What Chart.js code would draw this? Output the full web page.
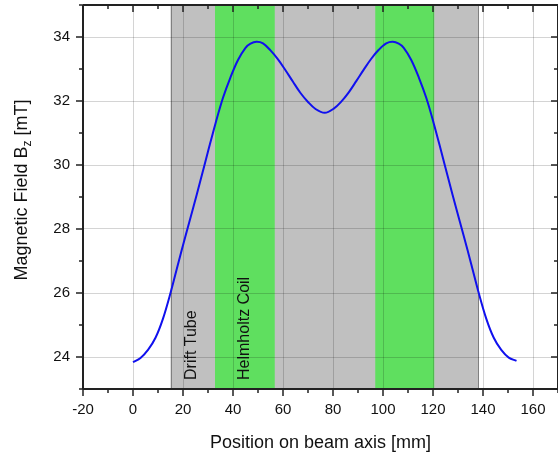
<!DOCTYPE html>
<html>
<head>
<meta charset="utf-8">
<script src="https://cdn.jsdelivr.net/npm/chart.js@4"></script>
<style>
  html, body { margin: 0; padding: 0; background: #fff; }
  #wrap { width: 558px; height: 458px; position: relative; overflow: hidden; }
</style>
</head>
<body>
<div id="wrap"><canvas id="fieldChart"></canvas></div>
<script>
// position along beam axis [mm] and field B_z [mT]
const posMm = [0, 3, 6, 9, 12, 15, 18, 21, 24, 27, 30, 33, 36, 39, 42, 45, 47, 49.4, 52, 55, 58, 61, 64, 67, 70, 73, 76.7,
  80.3, 83.3, 86.3, 89.3, 92.3, 95.3, 98.3, 101.3, 103.9, 106.3, 108.3, 111.3, 114.3, 117.3, 120.3, 123.3, 126.3,
  129.3, 132.3, 135.3, 138.3, 141.3, 144.3, 147.3, 150.3, 153.4];
const fieldMt = [23.84, 23.97, 24.22, 24.6, 25.2, 26.0, 26.9, 27.78, 28.64, 29.52, 30.42, 31.3, 32.1, 32.74, 33.28, 33.66, 33.79, 33.85, 33.8, 33.58, 33.3, 32.96, 32.6, 32.25, 31.97, 31.75, 31.63,
  31.76, 31.98, 32.27, 32.62, 32.98, 33.32, 33.6, 33.8, 33.85, 33.79, 33.66, 33.28, 32.74, 32.1, 31.3, 30.42, 29.52,
  28.64, 27.78, 26.9, 26.0, 25.2, 24.6, 24.22, 23.98, 23.88];

// shaded regions [start, end] in mm
const driftTube = [15, 138.2];
const coils = [[32.8, 56.7], [96.9, 120.5]];

const xTicks = [-20, 0, 20, 40, 60, 80, 100, 120, 140, 160];
const yTicks = [24, 26, 28, 30, 32, 34];

const FONT = "'Liberation Sans', Arial, sans-serif";

const bandsPlugin = {
  id: 'bands',
  beforeDraw(chart) {
    const { ctx, chartArea: a, scales: { x } } = chart;
    ctx.save();
    ctx.beginPath();
    ctx.rect(a.left, a.top, a.right - a.left, a.bottom - a.top);
    ctx.clip();
    const d0 = x.getPixelForValue(driftTube[0]);
    const d1 = x.getPixelForValue(driftTube[1]);
    ctx.fillStyle = '#c0c0c0';
    ctx.fillRect(d0, a.top, d1 - d0, a.bottom - a.top);
    ctx.strokeStyle = '#808080';
    ctx.lineWidth = 1;
    ctx.beginPath();
    ctx.moveTo(Math.round(d0) + 0.5, a.top); ctx.lineTo(Math.round(d0) + 0.5, a.bottom);
    ctx.moveTo(Math.round(d1) - 0.5, a.top); ctx.lineTo(Math.round(d1) - 0.5, a.bottom);
    ctx.stroke();
    ctx.fillStyle = '#5fdf5f';
    coils.forEach(([s, e]) => {
      const p0 = x.getPixelForValue(s), p1 = x.getPixelForValue(e);
      ctx.fillRect(p0, a.top, p1 - p0, a.bottom - a.top);
    });
    ctx.restore();
  },
};

const frameLabelsPlugin = {
  id: 'frameLabels',
  beforeDatasetsDraw(chart) {
    // text labels inside the bands
    const { ctx, chartArea: a, scales: { x } } = chart;
    ctx.save();
    ctx.fillStyle = '#111';
    ctx.font = '16px ' + FONT;
    ctx.textBaseline = 'middle';
    ctx.textAlign = 'left';
    [['Drift Tube', 23.5], ['Helmholtz Coil', 44.8]].forEach(([txt, mm]) => {
      ctx.save();
      ctx.translate(x.getPixelForValue(mm), a.bottom - 9);
      ctx.rotate(-Math.PI / 2);
      ctx.fillText(txt, 0, 0);
      ctx.restore();
    });
    ctx.restore();
  },
  afterDraw(chart) {
    const { ctx, chartArea: a, scales: { x, y } } = chart;
    ctx.save();
    ctx.strokeStyle = '#222';
    // frame
    ctx.lineWidth = 2;
    ctx.beginPath();
    ctx.moveTo(a.left, a.top); ctx.lineTo(a.right, a.top);
    ctx.moveTo(a.left, a.bottom); ctx.lineTo(a.right, a.bottom);
    ctx.moveTo(a.left, a.top); ctx.lineTo(a.left, a.bottom);
    ctx.moveTo(a.right, a.top); ctx.lineTo(a.right, a.bottom);
    ctx.stroke();
    // ticks, major and minor
    ctx.lineWidth = 1.5;
    ctx.beginPath();
    for (let v = -20; v <= 170; v += 10) {
      const px = x.getPixelForValue(v);
      const len = v % 20 === 0 ? 7 : 4;
      ctx.moveTo(px, a.bottom); ctx.lineTo(px, a.bottom + len);
      ctx.moveTo(px, a.top); ctx.lineTo(px, a.top + len);
    }
    for (let v = 23; v <= 35; v += 1) {
      const py = y.getPixelForValue(v);
      const len = v % 2 === 0 ? 7 : 4;
      ctx.moveTo(a.left, py); ctx.lineTo(a.left - len, py);
      ctx.moveTo(a.right, py); ctx.lineTo(a.right - len, py);
    }
    ctx.stroke();
    // y axis title with subscript
    ctx.fillStyle = '#111';
    ctx.translate(27, (a.top + a.bottom) / 2 - 7);
    ctx.rotate(-Math.PI / 2);
    ctx.textBaseline = 'alphabetic';
    ctx.textAlign = 'left';
    const big = '18px ' + FONT, small = '12px ' + FONT;
    ctx.font = big;
    const p1 = 'Magnetic Field B', p3 = ' [mT]';
    const w1 = ctx.measureText(p1).width, w3 = ctx.measureText(p3).width;
    ctx.font = small;
    const w2 = ctx.measureText('z').width;
    let cx = -(w1 + w2 + w3) / 2;
    ctx.font = big; ctx.fillText(p1, cx, 0); cx += w1;
    ctx.font = small; ctx.fillText('z', cx, 4); cx += w2;
    ctx.font = big; ctx.fillText(p3, cx, 0);
    ctx.restore();
  },
};

const points = posMm.map((p, i) => ({ x: p, y: fieldMt[i] }));

new Chart(document.getElementById('fieldChart'), {
  type: 'scatter',
  data: {
    datasets: [{
      data: points,
      showLine: true,
      borderColor: '#1010ee',
      borderWidth: 2,
      pointRadius: 0,
      tension: 0.35,
    }],
  },
  options: {
    responsive: true,
    maintainAspectRatio: false,
    animation: false,
    layout: { padding: { top: 5, right: -1.5, left: 0, bottom: 0 } },
    plugins: { legend: { display: false }, tooltip: { enabled: false } },
    scales: {
      x: {
        type: 'linear', min: -20, max: 170,
        afterBuildTicks: s => { s.ticks = xTicks.map(v => ({ value: v })); },
        afterFit: s => { s.height = 69; s.paddingLeft = 0; s.paddingRight = 0; },
        ticks: { color: '#111', padding: 12, font: { family: FONT, size: 15 } },
        grid: { color: 'rgba(0,0,0,0.17)', lineWidth: 1, drawTicks: false },
        border: { display: false },
        title: {
          display: true, text: 'Position on beam axis [mm]', color: '#111',
          font: { family: FONT, size: 18 }, padding: { top: 8 },
        },
      },
      y: {
        type: 'linear', min: 23, max: 35,
        afterBuildTicks: s => { s.ticks = yTicks.map(v => ({ value: v })); },
        afterFit: s => { s.width = 83; s.paddingTop = 0; s.paddingBottom = 0; },
        ticks: { color: '#111', padding: 13, font: { family: FONT, size: 15 } },
        grid: { color: 'rgba(0,0,0,0.17)', lineWidth: 1, drawTicks: false },
        border: { display: false },
      },
    },
  },
  plugins: [bandsPlugin, frameLabelsPlugin],
});
</script>
</body>
</html>
